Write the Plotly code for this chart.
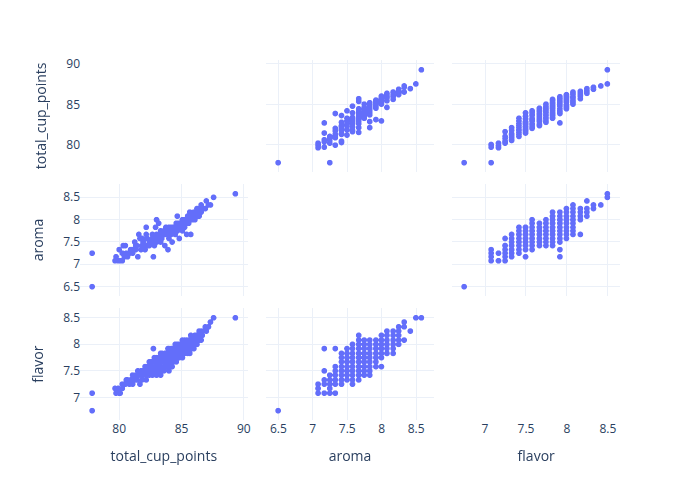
import plotly.graph_objects as go

total_cup_points = [
    77.83, 77.83, 79.75, 80.00, 79.67, 80.25, 80.42, 79.92, 80.08, 80.33, 80.58,
    80.50, 80.83, 81.08, 80.25, 81.25, 80.92, 81.42, 81.67,
    80.67, 81.33, 81.83, 81.00, 82.17,
    81.33, 81.83, 82.42, 82.67, 83.00, 83.33, 81.08, 81.92,
    81.50, 82.00, 82.58, 82.83, 83.25, 81.92, 83.58, 82.25, 82.67, 81.75, 84.00, 82.33,
    82.25, 82.50, 83.00, 83.33, 83.67, 82.67, 84.08, 82.08, 83.83, 83.00, 83.17, 84.25,
    82.58, 83.08, 83.50, 83.92, 82.92, 84.33, 83.25, 84.58, 82.42, 84.17, 83.00, 83.75,
    83.00, 83.42, 83.67, 84.08, 84.50, 84.00, 83.75, 84.83, 84.25, 82.83, 85.08, 84.42, 83.25, 84.67,
    83.42, 83.83, 84.25, 84.58, 84.00, 84.92, 84.83, 85.25, 84.50, 85.50, 83.33, 85.17, 85.67,
    82.75, 84.17, 84.50, 84.83, 85.17, 85.42, 85.00, 85.58, 85.83, 85.33, 84.00, 86.00, 85.75,
    84.67, 85.00, 85.33, 85.67, 85.92, 85.50, 86.08, 85.83, 86.25, 84.50, 86.00,
    85.25, 85.58, 85.83, 86.00, 86.25, 85.92, 86.42, 86.58, 85.08,
    86.08, 86.33, 86.50, 86.67, 86.17, 85.75,
    86.58, 86.75, 87.00, 86.42,
    86.92, 87.17, 87.33, 87.58, 89.33,
    83.67, 84.25, 82.92, 84.83, 82.17, 85.42, 83.17, 81.58, 84.67, 83.92,
]

aroma = [
    6.50, 7.25, 7.17, 7.33, 7.08, 7.25, 7.17, 7.08, 7.08, 7.42, 7.25,
    7.42, 7.25, 7.33, 7.08, 7.50, 7.33, 7.42, 7.58,
    7.17, 7.42, 7.58, 7.33, 7.67,
    7.33, 7.42, 7.50, 7.58, 7.67, 7.75, 7.25, 7.50,
    7.17, 7.42, 7.50, 7.58, 7.67, 7.50, 7.75, 7.58, 7.67, 7.33, 7.83, 7.42,
    7.42, 7.50, 7.58, 7.67, 7.75, 7.58, 7.83, 7.33, 7.67, 8.00, 7.58, 7.75,
    7.50, 7.58, 7.67, 7.75, 7.58, 7.83, 7.67, 7.92, 7.42, 7.75, 7.50, 7.83,
    7.50, 7.58, 7.67, 7.75, 7.83, 7.67, 7.75, 7.92, 7.83, 7.42, 8.00, 7.75, 7.58, 7.92,
    7.58, 7.67, 7.75, 7.83, 7.67, 7.92, 7.83, 8.00, 7.75, 8.08, 7.50, 7.92, 8.17,
    7.17, 7.67, 7.75, 7.83, 7.92, 8.00, 7.83, 8.00, 8.08, 7.92, 7.58, 8.17, 8.00,
    7.75, 7.83, 7.92, 8.00, 8.08, 7.92, 8.17, 8.00, 8.25, 7.67, 8.08,
    7.83, 7.92, 8.00, 8.08, 8.17, 8.00, 8.25, 8.33, 7.75,
    8.00, 8.08, 8.17, 8.25, 8.08, 7.67,
    8.17, 8.25, 8.42, 8.08,
    8.25, 8.33, 8.33, 8.50, 8.58,
    7.42, 7.50, 7.83, 7.58, 7.83, 7.67, 7.92, 7.67, 8.08, 7.33,
]

flavor = [
    6.75, 7.08, 7.08, 7.08, 7.17, 7.17, 7.25, 7.17, 7.08, 7.25, 7.33,
    7.25, 7.25, 7.25, 7.25, 7.33, 7.33, 7.33, 7.25,
    7.33, 7.33, 7.33, 7.33, 7.33,
    7.42, 7.42, 7.42, 7.42, 7.42, 7.42, 7.42, 7.42,
    7.50, 7.50, 7.50, 7.50, 7.50, 7.50, 7.50, 7.50, 7.50, 7.50, 7.50, 7.50,
    7.58, 7.58, 7.58, 7.58, 7.58, 7.58, 7.58, 7.58, 7.58, 7.58, 7.58, 7.58,
    7.67, 7.67, 7.67, 7.67, 7.67, 7.67, 7.67, 7.67, 7.67, 7.67, 7.67, 7.67,
    7.75, 7.75, 7.75, 7.75, 7.75, 7.75, 7.75, 7.75, 7.75, 7.75, 7.75, 7.75, 7.75, 7.75,
    7.83, 7.83, 7.83, 7.83, 7.83, 7.83, 7.83, 7.83, 7.83, 7.83, 7.83, 7.83, 7.83,
    7.92, 7.92, 7.92, 7.92, 7.92, 7.92, 7.92, 7.92, 7.92, 7.92, 7.92, 7.92, 7.92,
    8.00, 8.00, 8.00, 8.00, 8.00, 8.00, 8.00, 8.00, 8.00, 8.00, 8.00,
    8.08, 8.08, 8.08, 8.08, 8.08, 8.08, 8.08, 8.08, 8.08,
    8.17, 8.17, 8.17, 8.17, 8.17, 8.17,
    8.25, 8.25, 8.25, 8.25,
    8.33, 8.33, 8.42, 8.50, 8.50,
    7.83, 7.92, 7.50, 8.00, 7.42, 8.08, 7.58, 7.42, 7.83, 7.92,
]

fig = go.Figure(go.Splom(
    dimensions=[
        dict(label="total_cup_points", values=total_cup_points),
        dict(label="aroma", values=aroma),
        dict(label="flavor", values=flavor),
    ],
    diagonal_visible=False,
    marker=dict(color="#636efa"),
    showlegend=False,
))
fig.update_layout(
    template="plotly_white",
    width=700, height=500,
    margin=dict(t=60),
    dragmode="select",
)
fig.write_html("out.html")
